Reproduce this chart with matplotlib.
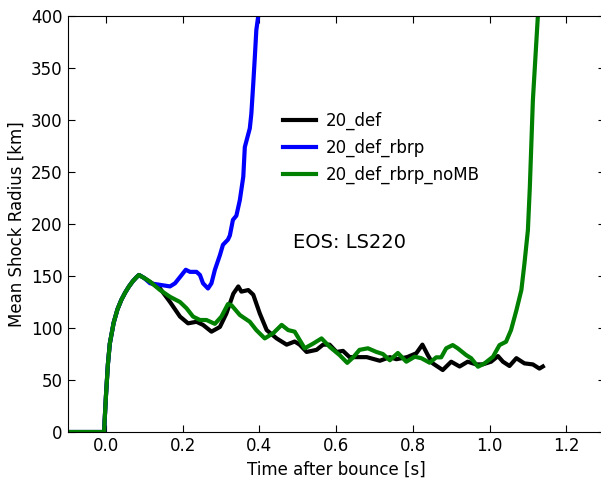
import numpy as np
import matplotlib
matplotlib.use("Agg")
import matplotlib.pyplot as plt

# ─── data ───────────────────────────────────────────────────
t_early = [-0.1, -0.005, 0.0, 0.005, 0.01, 0.02, 0.03, 0.04, 0.05, 0.06, 0.07, 0.08, 0.086]
r_early = [0, 0, 35, 65, 85, 105, 118, 127, 134, 140, 145, 149, 151]

t_def = [0.10, 0.12, 0.141, 0.167, 0.193, 0.214, 0.236, 0.253, 0.275, 0.297, 0.314,
         0.332, 0.345, 0.353, 0.371, 0.384, 0.401, 0.419, 0.445, 0.471, 0.492, 0.505,
         0.523, 0.549, 0.566, 0.583, 0.601, 0.618, 0.635, 0.653, 0.68, 0.714, 0.74,
         0.757, 0.785, 0.809, 0.825, 0.839, 0.852, 0.878, 0.900, 0.922, 0.943, 0.965,
         0.982, 1.004, 1.022, 1.035, 1.052, 1.070, 1.091, 1.113, 1.130, 1.139]
r_def = [148, 143, 138, 125, 111, 104.5, 106, 103, 96.5, 101, 114,
         133, 140, 135, 136.5, 132, 114, 98, 90, 84, 87, 84,
         77, 79, 84, 84, 77, 78, 72, 72, 72, 68.5, 72,
         70, 72, 75.7, 84, 74, 66, 59.6, 67.6, 63, 67.6, 65,
         65, 67.6, 73, 67.6, 63.5, 71, 66, 65, 61, 63]

t_rbrp = [0.10, 0.115, 0.141, 0.167, 0.18, 0.193, 0.208, 0.219, 0.236, 0.245, 0.253,
          0.266, 0.275, 0.284, 0.297, 0.305, 0.318, 0.323, 0.331, 0.340, 0.349, 0.358,
          0.362, 0.375, 0.379, 0.384, 0.388, 0.392, 0.397, 0.40]
r_rbrp = [148, 143, 141.5, 140, 143, 149, 156, 154, 154, 151, 143,
          138, 143, 156, 170, 180, 185, 189, 204, 208, 223, 245.5,
          274, 292, 306, 335, 360, 386.5, 400, 420]

t_nomb = [0.10, 0.115, 0.141, 0.167, 0.193, 0.210, 0.227, 0.245, 0.262, 0.284, 0.301,
          0.318, 0.327, 0.349, 0.375, 0.392, 0.414, 0.436, 0.458, 0.475, 0.492, 0.518,
          0.540, 0.562, 0.583, 0.609, 0.629, 0.645, 0.661, 0.683, 0.705, 0.722, 0.740,
          0.761, 0.783, 0.805, 0.822, 0.844, 0.861, 0.874, 0.887, 0.904, 0.917, 0.939,
          0.952, 0.970, 0.987, 1.009, 1.026, 1.043, 1.056, 1.070, 1.083, 1.091, 1.100,
          1.105, 1.113, 1.126, 1.13]
r_nomb = [148, 144.5, 136.5, 130, 125, 119, 111, 107.7, 107.7, 104, 111,
          123, 122, 112.5, 106, 98, 90, 95, 103, 98, 96.5, 80.5,
          85, 90, 82, 74, 66.5, 72, 79, 80.5, 77, 75, 69,
          76, 67.6, 72.4, 71, 66.6, 71.8, 71.8, 80.5, 83.6, 80.5, 74,
          71, 62.8, 66, 72.4, 83.6, 86.8, 98, 117, 136.5, 162, 194,
          235, 319, 400, 430]

labels = ["20_def", "20_def_rbrp", "20_def_rbrp_noMB"]
colors = ["k", "b", "g"]

# ─── plot ───────────────────────────────────────────────────
plt.rcParams["font.family"] = "DejaVu Sans"
plt.rcParams["font.size"] = 12

fig = plt.figure(figsize=(6.01, 4.78), dpi=100)
ax = fig.add_axes([0.1125, 0.0962, 0.8935, 0.8703])

series = [(t_def, r_def), (t_rbrp, r_rbrp), (t_nomb, r_nomb)]
for (t, r), lab, c in zip(series, labels, colors):
    ax.plot(t_early + t, r_early + r, color=c, linewidth=3, label=lab)

ax.set_xlim(-0.1, 1.3)
ax.set_ylim(0, 400)
ax.set_xticks([0.0, 0.2, 0.4, 0.6, 0.8, 1.0, 1.2])
ax.set_yticks(np.arange(0, 401, 50))
ax.tick_params(direction="in", top=True, right=True, length=5, labelsize=12)
ax.set_xlabel("Time after bounce [s]")
ax.set_ylabel("Mean Shock Radius [km]")

ax.legend(loc="center left", bbox_to_anchor=(0.388, 0.683), frameon=False,
          borderaxespad=0, handlelength=2.0, handletextpad=0.6, fontsize=12)
ax.text(0.487, 182, "EOS: LS220", ha="left", va="center", fontsize=14)

fig.savefig("out.png", dpi=100)
